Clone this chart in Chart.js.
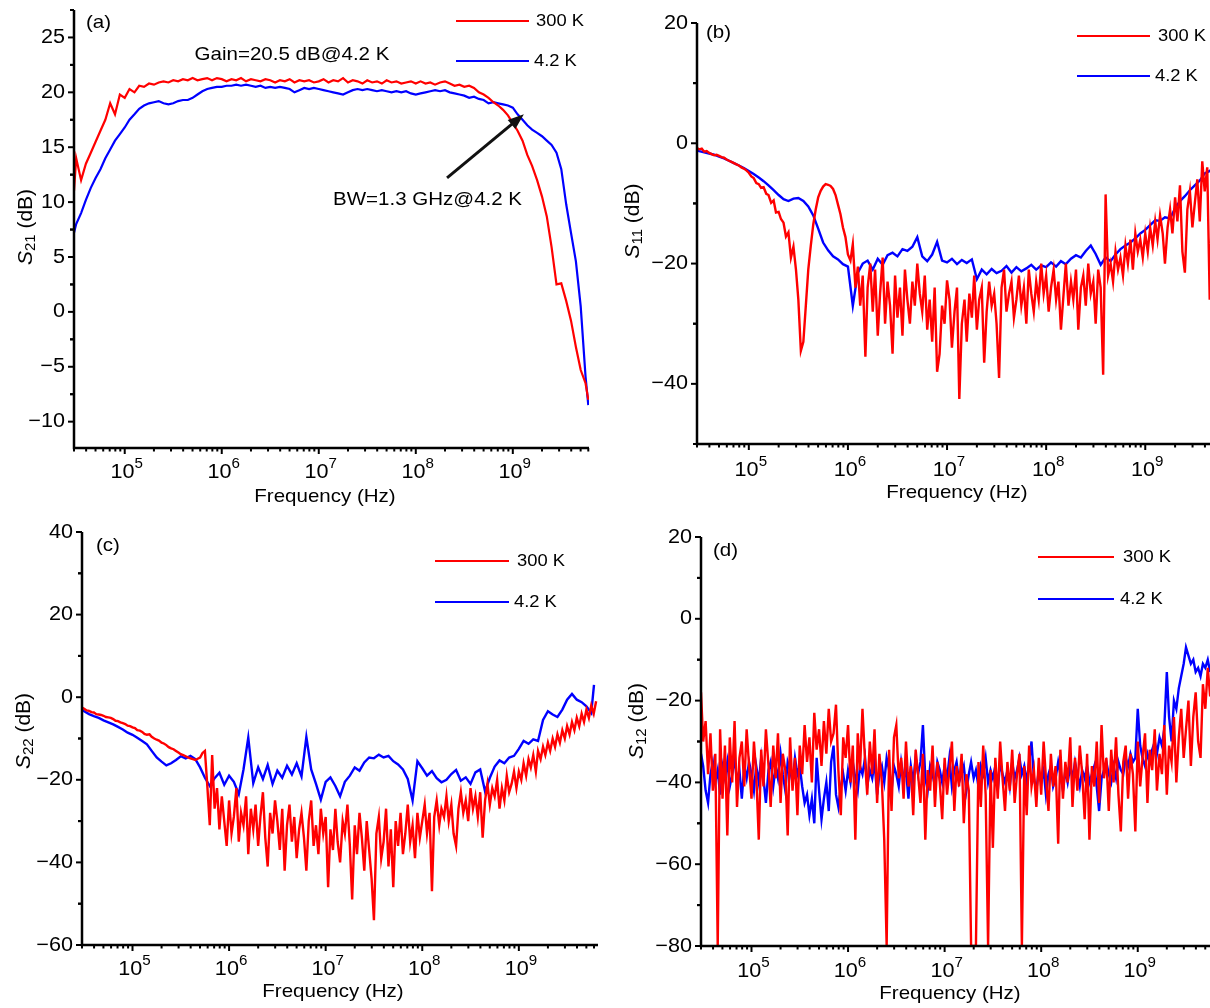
<!DOCTYPE html>
<html>
<head>
<meta charset="utf-8">
<script src="https://cdn.jsdelivr.net/npm/chart.js@4.4.1/dist/chart.umd.min.js"></script>
<style>
  html, body { margin: 0; padding: 0; background: #fff; }
  #wrap { position: relative; width: 1210px; height: 1008px; overflow: hidden; background: #fff; }
  canvas { position: absolute; }
</style>
</head>
<body>
<div id="wrap">
  <canvas id="pa" width="605" height="516" style="left:0;top:0"></canvas>
  <canvas id="pb" width="605" height="516" style="left:605px;top:0"></canvas>
  <canvas id="pc" width="605" height="504" style="left:0;top:504px"></canvas>
  <canvas id="pd" width="605" height="504" style="left:605px;top:504px"></canvas>
</div>
<script>
/* ========== DATA ========== */
// coarse grid, 20 points per decade
const freq = [
  3e4, 3.16e4, 3.55e4, 3.98e4, 4.47e4, 5.01e4, 5.62e4, 6.31e4, 7.08e4, 7.94e4, 8.91e4,
  1e5, 1.12e5, 1.26e5, 1.41e5, 1.58e5, 1.78e5, 2e5, 2.24e5, 2.51e5, 2.82e5, 3.16e5, 3.55e5, 3.98e5, 4.47e5, 5.01e5, 5.62e5, 6.31e5, 7.08e5, 7.94e5, 8.91e5,
  1e6, 1.12e6, 1.26e6, 1.41e6, 1.58e6, 1.78e6, 2e6, 2.24e6, 2.51e6, 2.82e6, 3.16e6, 3.55e6, 3.98e6, 4.47e6, 5.01e6, 5.62e6, 6.31e6, 7.08e6, 7.94e6, 8.91e6,
  1e7, 1.12e7, 1.26e7, 1.41e7, 1.58e7, 1.78e7, 2e7, 2.24e7, 2.51e7, 2.82e7, 3.16e7, 3.55e7, 3.98e7, 4.47e7, 5.01e7, 5.62e7, 6.31e7, 7.08e7, 7.94e7, 8.91e7,
  1e8, 1.12e8, 1.26e8, 1.41e8, 1.58e8, 1.78e8, 2e8, 2.24e8, 2.51e8, 2.82e8, 3.16e8, 3.55e8, 3.98e8, 4.47e8, 5.01e8, 5.62e8, 6.31e8, 7.08e8, 7.94e8, 8.91e8,
  1e9, 1.12e9, 1.26e9, 1.41e9, 1.58e9, 1.78e9, 2e9, 2.24e9, 2.51e9, 2.82e9, 3.16e9, 3.55e9, 3.98e9, 4.47e9, 5.01e9, 5.62e9, 6e9
];

// fine grid, 40 points per decade (for the noisy traces)
const freqFine = [
  3e4, 3.16e4, 3.35e4, 3.55e4, 3.76e4, 3.98e4, 4.22e4, 4.47e4, 4.73e4, 5.01e4, 5.31e4, 5.62e4, 5.96e4, 6.31e4, 6.68e4, 7.08e4, 7.5e4, 7.94e4, 8.41e4, 8.91e4, 9.44e4,
  1e5, 1.06e5, 1.12e5, 1.19e5, 1.26e5, 1.33e5, 1.41e5, 1.5e5, 1.58e5, 1.68e5,
  1.78e5, 1.88e5, 2e5, 2.11e5, 2.24e5, 2.37e5, 2.51e5, 2.66e5, 2.82e5, 2.99e5,
  3.16e5, 3.35e5, 3.55e5, 3.76e5, 3.98e5, 4.22e5, 4.47e5, 4.73e5, 5.01e5, 5.31e5,
  5.62e5, 5.96e5, 6.31e5, 6.68e5, 7.08e5, 7.5e5, 7.94e5, 8.41e5, 8.91e5, 9.44e5,
  1e6, 1.06e6, 1.12e6, 1.19e6, 1.26e6, 1.33e6, 1.41e6, 1.5e6, 1.58e6, 1.68e6,
  1.78e6, 1.88e6, 2e6, 2.11e6, 2.24e6, 2.37e6, 2.51e6, 2.66e6, 2.82e6, 2.99e6,
  3.16e6, 3.35e6, 3.55e6, 3.76e6, 3.98e6, 4.22e6, 4.47e6, 4.73e6, 5.01e6, 5.31e6,
  5.62e6, 5.96e6, 6.31e6, 6.68e6, 7.08e6, 7.5e6, 7.94e6, 8.41e6, 8.91e6, 9.44e6,
  1e7, 1.06e7, 1.12e7, 1.19e7, 1.26e7, 1.33e7, 1.41e7, 1.5e7, 1.58e7, 1.68e7,
  1.78e7, 1.88e7, 2e7, 2.11e7, 2.24e7, 2.37e7, 2.51e7, 2.66e7, 2.82e7, 2.99e7,
  3.16e7, 3.35e7, 3.55e7, 3.76e7, 3.98e7, 4.22e7, 4.47e7, 4.73e7, 5.01e7, 5.31e7,
  5.62e7, 5.96e7, 6.31e7, 6.68e7, 7.08e7, 7.5e7, 7.94e7, 8.41e7, 8.91e7, 9.44e7,
  1e8, 1.06e8, 1.12e8, 1.19e8, 1.26e8, 1.33e8, 1.41e8, 1.5e8, 1.58e8, 1.68e8,
  1.78e8, 1.88e8, 2e8, 2.11e8, 2.24e8, 2.37e8, 2.51e8, 2.66e8, 2.82e8, 2.99e8,
  3.16e8, 3.35e8, 3.55e8, 3.76e8, 3.98e8, 4.22e8, 4.47e8, 4.73e8, 5.01e8, 5.31e8,
  5.62e8, 5.96e8, 6.31e8, 6.68e8, 7.08e8, 7.5e8, 7.94e8, 8.41e8, 8.91e8, 9.44e8,
  1e9, 1.06e9, 1.12e9, 1.19e9, 1.26e9, 1.33e9, 1.41e9, 1.5e9, 1.58e9, 1.68e9,
  1.78e9, 1.88e9, 2e9, 2.11e9, 2.24e9, 2.37e9, 2.51e9, 2.66e9, 2.82e9, 2.99e9,
  3.16e9, 3.35e9, 3.55e9, 3.76e9, 3.98e9, 4.22e9, 4.47e9, 4.73e9, 5.01e9, 5.31e9,
  5.62e9, 5.96e9, 6.31e9
];

// (a) S21 on freq
const s21Red = [
  11, 14, 12, 13.5, 14.5, 15.5, 16.5, 17.5, 19, 18, 19.8,
  19.5, 20.3, 20, 20.6, 20.5, 20.8, 20.7, 20.9, 21, 20.9, 21.1, 21, 21.2, 21.1, 21.3, 21.1, 21.2, 21.3, 21.1, 21.3,
  21.2, 21.0, 21.2, 21.1, 21.3, 21.0, 21.2, 21.1, 21.0, 21.2, 21.1, 20.9, 21.1, 21.0, 21.2, 20.9, 21.1, 21.0, 21.1, 20.9,
  21.0, 21.2, 20.9, 21.1, 21.0, 21.3, 20.9, 21.1, 21.0, 20.8, 21.1, 20.9, 21.0, 20.8, 21.1, 20.9, 21.0, 20.8, 20.9, 21.0,
  20.8, 21.0, 20.8, 20.9, 20.7, 20.9, 21.0, 20.8, 20.6, 20.7, 20.5, 20.6, 20.4, 20.0, 19.8, 19.5, 19.1, 18.8, 18.4, 17.9,
  17.2, 16.5, 15.6, 14.3, 13.3, 12, 10.5, 8.7, 5.9, 2.5, 2.6, 1, -0.8, -3.2, -5.3, -6.5, -8
];
const s21Blue = [
  7.2, 8, 9, 10.2, 11.3, 12.2, 13, 14, 14.8, 15.6, 16.2,
  16.8, 17.5, 18, 18.5, 18.8, 19, 19.1, 19.2, 19, 18.9, 19, 19.2, 19.3, 19.3, 19.5, 19.8, 20.1, 20.3, 20.4, 20.5,
  20.5, 20.6, 20.6, 20.7, 20.6, 20.7, 20.6, 20.5, 20.6, 20.4, 20.5, 20.4, 20.5, 20.4, 20.3, 20.0, 20.2, 20.4, 20.3, 20.4,
  20.3, 20.2, 20.1, 20.0, 19.9, 19.8, 20.0, 20.2, 20.3, 20.2, 20.3, 20.2, 20.1, 20.2, 20.1, 20.0, 20.1, 20.0, 20.1, 19.9,
  19.8, 19.9, 20.0, 20.1, 20.2, 20.1, 20.2, 20.0, 19.9, 19.8, 19.7, 19.5, 19.6, 19.4, 19.3, 19.0, 19.1, 19.0, 18.9, 18.8,
  18.6, 18.0, 17.5, 17.0, 16.6, 16.3, 16.0, 15.6, 15.2, 14.5, 13.0, 9.8, 7.2, 4.6, 0.5, -5.9, -8.5
];

// (b) S11: red on freqFine, blue on freq
const s11Red = [
  -0.8, -1.0, -0.9, -1.4, -1.3, -1.6, -1.8, -2.0, -1.9, -2.1, -2.3, -2.4, -2.7, -2.9, -3.1, -3.3, -3.5, -3.7, -4.0, -4.2, -4.5,
  -4.9, -5.5, -5.8, -6.6, -6.8, -7.4, -7.3, -8.4, -8.6, -9.9,
  -9.5, -11.5, -11.4, -12.6, -13.2, -15.5, -14.8, -19, -17.2, -21,
  -26, -34.5, -33, -27, -21, -17, -13.5, -11, -9.0, -7.9,
  -7.2, -6.8, -6.9, -7.1, -7.6, -8.6, -10.2, -11.8, -14.0, -15.6,
  -18.5, -19.5, -16.8, -24, -20.5, -27, -22, -35.5, -24, -20,
  -28, -21, -32, -25, -19, -30, -23, -27, -35, -22,
  -29, -24, -32, -21, -26, -30, -23, -27, -20, -25,
  -28, -22, -31, -26, -33, -24, -38, -35, -27, -30,
  -22.8, -26, -34, -28, -24, -42.5, -30, -26, -33, -25,
  -29, -22, -31, -26, -24, -36.5, -28, -23, -27, -25,
  -30, -39, -24, -21, -28, -25, -23, -29, -26, -22,
  -27, -24, -30, -21, -25, -28, -23, -26, -20, -25,
  -22, -28, -24, -21, -26, -23, -31, -25, -20, -27,
  -23, -26, -21, -31, -24, -22, -27, -20, -25, -23,
  -30, -21, -24, -38.5, -8.5, -22, -20, -23, -18, -21,
  -19, -22, -17, -20, -16, -21, -15, -18, -16, -19,
  -15, -18, -14, -17, -13, -16, -12, -15, -20, -14,
  -11, -15, -9, -13, -7, -18, -21.5, -11, -8, -14,
  -10, -6, -13, -3, -8, -4, -26, -9, -8, -5,
  -6, -5, -6
];
const s11Blue = [
  -1.2, -1.3, -1.5, -1.7, -1.9, -2.2, -2.5, -2.9, -3.3, -3.7, -4.1,
  -4.6, -5.1, -5.7, -6.3, -7.0, -7.8, -8.6, -9.3, -9.6, -9.2, -9.1, -9.6, -10.5, -12.0, -14.2, -16.5, -17.8, -18.8, -19.3, -20.1,
  -20.5, -27, -21.5, -20, -19.5, -21, -19.2, -20.2, -18.6, -18.2, -18.8, -17.6, -17.9, -17.2, -15.6, -18.8, -19.6, -18.5, -16.4, -19.5,
  -19.8, -19.2, -20.1, -19.4, -19.9, -19.3, -22.6, -21.0, -21.8, -20.9, -21.6, -21.2, -20.4, -21.5, -20.6, -21.3, -20.8, -20.2, -21.0, -20.3,
  -20.6, -19.8, -20.5, -19.6, -20.1, -19.2, -18.6, -19.0, -17.9, -17.0, -18.4, -20.2, -19.0, -19.6, -18.5, -17.6, -17.0, -16.5, -15.8, -15.0,
  -14.4, -13.6, -12.8, -12.9, -12.3, -12.5, -10.8, -9.6, -8.8, -7.8, -7.0, -6.2, -5.0, -4.6, -4.0, -3.5, -3.2
];

// (c) S22: red on freqFine, blue on freq
const s22Red = [
  -2.5, -2.8, -3.2, -3.3, -3.6, -3.7, -4.1, -4.2, -4.3, -4.5, -4.8, -4.9, -5.0, -5.3, -5.7, -5.8, -6.1, -6.3, -6.5, -6.9, -7.0,
  -7.3, -7.5, -8.0, -8.1, -8.4, -8.9, -9.1, -9.0, -9.6, -10.0,
  -10.3, -10.5, -11.0, -11.2, -11.6, -12.1, -12.4, -12.6, -13.0, -13.4,
  -13.8, -14.0, -14.3, -14.6, -14.8, -15.0, -15.2, -14.9, -14.6, -13.5,
  -13.0, -21.7, -31, -14, -27, -22, -32, -24, -30, -36,
  -25, -33, -29, -22, -35, -28, -31, -24, -38, -27,
  -32, -26, -36, -29, -23, -34, -41, -28, -33, -25,
  -30, -37, -27, -42, -31, -26, -35, -29, -39, -32,
  -28, -34, -42, -30, -25, -36, -31, -38, -27, -33,
  -29, -46, -32, -37, -27, -35, -40, -30, -33, -26,
  -36, -49, -31, -38, -28, -34, -42, -30, -37, -44,
  -54, -33, -29, -39, -35, -27, -41, -32, -46, -30,
  -36, -28, -38, -33, -26, -35, -31, -39, -28, -34,
  -30, -26, -33, -28, -47, -29, -25, -31, -27, -29,
  -24, -30, -26, -33, -36, -27, -23, -28, -25, -30,
  -22, -27, -24, -29, -23, -34, -25, -21, -26, -22,
  -24, -20, -27, -22, -25, -19, -23, -21, -18, -22,
  -18, -20, -16, -19, -15, -17, -14, -18, -13, -15,
  -12, -14, -11, -13, -10, -12, -9, -11, -8, -10,
  -7, -9, -6, -8, -5, -7, -4, -6, -3, -5,
  -2, -4, -1
];
const s22Blue = [
  -3, -3.4, -4.1, -4.6, -5.0, -5.6, -6.1, -6.6, -7.2, -7.8, -8.6,
  -9.1, -9.8, -10.6, -11.4, -13.0, -14.6, -15.6, -16.5, -16.0, -15.2, -14.3, -14.8, -14.2, -15.0, -17.0, -19.5, -21.5, -19.6, -18.3, -21.2,
  -19.0, -20.5, -23.5, -17.5, -9.8, -20.8, -17.0, -19.8, -16.4, -21.0, -17.8, -19.5, -16.6, -18.7, -16.0, -19.2, -9.6, -17.5, -21.0, -24.8,
  -20.5, -19.4, -21.5, -24.0, -20.5, -19.0, -17.0, -17.8, -15.8, -14.6, -14.8, -13.9, -14.6, -14.2, -15.5, -16.3, -17.5, -19.8, -25.0, -15.5,
  -17.2, -19.0, -17.9, -19.6, -20.6, -20.0, -18.6, -17.6, -20.2, -19.4, -21.0, -18.2, -17.5, -22.8, -19.5, -16.8, -15.3, -16.0, -14.6, -14.2,
  -12.5, -10.6, -11.3, -10.2, -10.6, -5.5, -3.4, -4.2, -4.8, -3.0, -0.6, 0.8, -0.6, -1.2, -2.2, -3.8, 3.0
];

// (d) S12: both on freqFine
const s12Red = [
  -18, -30, -25, -38, -28, -42, -33, -80, -27, -44, -31, -53, -29, -40, -25, -46, -34, -30, -41, -27, -36,
  -44, -30, -38, -54, -32, -41, -27, -36, -46, -31,
  -39, -28, -45, -33, -37, -53, -29, -42, -34, -48,
  -31, -38, -26, -35, -29, -40, -23, -32, -27, -36,
  -25, -33, -22, -30, -28, -21, -37, -48, -29, -34,
  -26, -40, -31, -54, -28, -37, -22, -35, -43, -30,
  -38, -27, -45, -33, -40, -54, -80, -32, -47, -29,
  -26, -39, -34, -44, -30, -41, -36, -48, -32, -38,
  -45, -33, -54, -37, -42, -31, -46, -35, -40, -49,
  -34, -43, -37, -30, -47, -36, -41, -33, -50, -38,
  -42, -80, -80, -80, -35, -46, -31, -43, -80, -37,
  -56, -34, -44, -30, -39, -47, -35, -42, -32, -45,
  -38, -33, -80, -36, -48, -31, -41, -37, -46, -34,
  -43, -30, -39, -47, -33, -41, -36, -55, -32, -44,
  -35, -40, -29, -46, -34, -42, -31, -38, -49, -33,
  -54, -36, -41, -30, -45, -26, -39, -34, -47, -32,
  -40, -29, -43, -52, -35, -31, -44, -33, -38, -52,
  -30, -41, -34, -28, -45, -32, -37, -27, -42, -33,
  -38, -26, -43, -31, -35, -24, -40, -29, -22, -34,
  -27, -20, -36, -24, -18, -30, -34, -16, -22, -12,
  -19, -14, -18
];
const s12Blue = [
  -33, -36, -42, -45, -38, -35, -40, -37, -43, -36, -39, -35, -41, -38, -34, -40, -37, -44, -36, -39, -35,
  -38, -42, -36, -40, -34, -39, -45, -37, -35, -41,
  -36, -39, -33, -38, -42, -35, -37, -40, -34, -38,
  -36, -41, -45, -43, -48, -44, -50, -34, -42, -49,
  -44, -40, -47, -35, -31, -43, -46, -41, -38, -42,
  -37, -40, -35, -39, -42, -36, -38, -34, -41, -37,
  -39, -35, -43, -38, -36, -40, -34, -37, -42, -36,
  -38, -41, -35, -39, -37, -44, -36, -40, -34, -38,
  -35, -26, -39, -42, -36, -38, -41, -35, -37, -40,
  -36, -39, -34, -41, -37, -35, -40, -38, -36, -42,
  -38, -35, -39, -37, -41, -36, -38, -34, -40, -37,
  -39, -36, -42, -35, -38, -40, -37, -41, -35, -39,
  -37, -34, -38, -36, -40, -35, -30, -39, -42, -37,
  -40, -37, -43, -38, -36, -41, -39, -35, -38, -42,
  -37, -40, -36, -39, -35, -38, -41, -37, -39, -36,
  -40, -38, -36, -41, -47, -39, -37, -35, -38, -40,
  -36, -39, -35, -37, -38, -34, -36, -33, -35, -34,
  -22, -31, -34, -36, -33, -35, -32, -30, -33, -29,
  -31, -27, -13, -24, -30, -20, -22, -17, -14, -11,
  -7, -9, -11, -10, -13, -12, -14, -11, -12, -10,
  -13, -15, -12
];

const decades = [5, 6, 7, 8, 9];
const yTicksA = [-10, -5, 0, 5, 10, 15, 20, 25];
const yTicksB = [-40, -20, 0, 20];
const yTicksC = [-60, -40, -20, 0, 20, 40];
const yTicksD = [-80, -60, -40, -20, 0, 20];
const seriesNames = ["300 K", "4.2 K"];

/* ========== DRAWING HELPERS ========== */
const RED = "#ff0000";
const BLUE = "#0000ff";
const FONT = '"Liberation Sans", Arial, Helvetica, sans-serif';
const SX = 1.08; // the figure's text is slightly wide

function measure(ctx, s, size, style, k) {
  ctx.save();
  ctx.font = `${style || ""} ${size}px ${FONT}`;
  const w = ctx.measureText(s).width * (k == null ? SX : k);
  ctx.restore();
  return w;
}

function text(ctx, s, x, y, size, align, style, k) {
  const kk = k == null ? SX : k;
  const w = measure(ctx, s, size, style, kk);
  let x0 = x;
  if (align === "center") x0 = x - w / 2;
  else if (align === "right") x0 = x - w;
  ctx.save();
  ctx.font = `${style || ""} ${size}px ${FONT}`;
  ctx.textBaseline = "middle";
  ctx.textAlign = "left";
  ctx.fillStyle = "#000";
  ctx.translate(x0, y);
  ctx.scale(kk, 1);
  ctx.fillText(s, 0, 0);
  ctx.restore();
  return w;
}

const pts = (fs, vals) => {
  if (fs.length !== vals.length) console.warn("length mismatch", fs.length, vals.length);
  return fs.map((f, i) => ({ x: f, y: vals[i] }));
};

function frame(p) {
  return {
    id: "frame_" + p.tag,
    afterDraw(chart) {
      const { ctx, chartArea: a, scales: { x, y } } = chart;
      ctx.save();
      ctx.strokeStyle = "#000";
      ctx.fillStyle = "#000";

      // axis lines
      ctx.lineWidth = 2.5;
      ctx.beginPath();
      ctx.moveTo(a.left, a.top);
      ctx.lineTo(a.left, a.bottom);
      ctx.lineTo(a.right, a.bottom);
      ctx.stroke();

      // y ticks + labels
      ctx.lineWidth = 2;
      const step = p.yTicks[1] - p.yTicks[0];
      p.yTicks.forEach((v) => {
        const py = y.getPixelForValue(v);
        ctx.beginPath(); ctx.moveTo(a.left - 6, py); ctx.lineTo(a.left, py); ctx.stroke();
        text(ctx, String(v).replace("-", "\u2212"), a.left - 9, py, 20, "right");
        [v - step / 2, v + step / 2].forEach((m) => {
          if (m < p.ymin || m > p.ymax || p.yTicks.includes(m)) return;
          const my = y.getPixelForValue(m);
          ctx.beginPath(); ctx.moveTo(a.left - 4, my); ctx.lineTo(a.left, my); ctx.stroke();
        });
      });

      // x ticks (decades + 2..9 minors)
      for (let d = 4; d <= 9; d++) {
        for (let m = 1; m <= 9; m++) {
          const f = m * Math.pow(10, d);
          if (f < p.xmin || f > p.xmax) continue;
          const px = x.getPixelForValue(f);
          const len = m === 1 ? 6 : 3.5;
          ctx.beginPath(); ctx.moveTo(px, a.bottom); ctx.lineTo(px, a.bottom + len); ctx.stroke();
        }
      }
      decades.forEach((e) => {
        const px = x.getPixelForValue(Math.pow(10, e));
        const w1 = measure(ctx, "10", 20), w2 = measure(ctx, String(e), 14);
        const x0 = px - (w1 + w2) / 2 + 2;
        const ly = a.bottom + p.xLabGap;
        text(ctx, "10", x0, ly, 20, "left");
        text(ctx, String(e), x0 + w1, ly - 8, 14, "left");
      });

      // axis titles
      text(ctx, "Frequency (Hz)", p.xTitle[0], p.xTitle[1], 19, "center");
      ctx.save();
      ctx.translate(p.yTitle[0], p.yTitle[1]);
      ctx.rotate(-Math.PI / 2);
      const parts = [["S", 21, "italic", 0], [p.sub, 15, "", 5], [" (dB)", 21, "", 0]];
      const tot = parts.reduce((s, q) => s + measure(ctx, q[0], q[1], q[2], 1), 0);
      let xx = -tot / 2;
      parts.forEach((q) => { xx += text(ctx, q[0], xx, q[3], q[1], "left", q[2], 1); });
      ctx.restore();

      // panel letter
      text(ctx, p.letter, p.letterPos[0], p.letterPos[1], 19, "left");

      // legend
      const L = p.legend;
      ctx.lineWidth = 2;
      [[RED, L.yr, L.tr], [BLUE, L.yb, L.tb]].forEach(([c, ly, tx], i) => {
        ctx.strokeStyle = c;
        ctx.beginPath(); ctx.moveTo(L.x1, ly); ctx.lineTo(L.x2, ly); ctx.stroke();
        text(ctx, seriesNames[i], tx, ly, 17, "left");
      });

      if (p.extra) p.extra(chart);
      ctx.restore();
    }
  };
}

function makePanel(id, p) {
  const lw = p.lineWidth || 2;
  return new Chart(document.getElementById(id), {
    type: "line",
    data: {
      datasets: [
        { label: seriesNames[0], data: pts(p.redF, p.red), borderColor: RED, borderWidth: lw, pointRadius: 0, tension: 0, order: 0 },
        { label: seriesNames[1], data: pts(p.blueF, p.blue), borderColor: BLUE, borderWidth: lw, pointRadius: 0, tension: 0, order: 1 }
      ]
    },
    options: {
      responsive: false,
      animation: false,
      devicePixelRatio: 1,
      events: [],
      layout: { padding: p.pad },
      plugins: { legend: { display: false }, tooltip: { enabled: false } },
      scales: {
        x: { type: "logarithmic", min: p.xmin, max: p.xmax, display: false },
        y: { type: "linear", min: p.ymin, max: p.ymax, display: false }
      }
    },
    plugins: [frame(p)]
  });
}

/* ========== PANELS ========== */
makePanel("pa", {
  tag: "a", red: s21Red, redF: freq, blue: s21Blue, blueF: freq, sub: "21", letter: "(a)",
  xmin: 3e4, xmax: 6.1e9, ymin: -12.4, ymax: 27.5, yTicks: yTicksA, lineWidth: 2.2,
  pad: { left: 74, top: 10, right: 16, bottom: 68 }, xLabGap: 24,
  xTitle: [325, 497], yTitle: [26, 227], letterPos: [86, 23],
  legend: { x1: 456, x2: 529, yr: 21, yb: 61, tr: 536, tb: 534 },
  extra(chart) {
    const { ctx, scales: { x, y } } = chart;
    text(ctx, "Gain=20.5 dB@4.2 K", 292, 55, 19, "center");
    text(ctx, "BW=1.3 GHz@4.2 K", 333, 200, 19, "left");
    const tx = x.getPixelForValue(1.3e9), ty = y.getPixelForValue(18);
    const fx = x.getPixelForValue(2.1e8), fy = y.getPixelForValue(12.2);
    const ang = Math.atan2(ty - fy, tx - fx);
    const c = Math.cos(ang), s = Math.sin(ang), hl = 16, hw = 6;
    ctx.strokeStyle = "#111"; ctx.fillStyle = "#111"; ctx.lineWidth = 3;
    ctx.beginPath(); ctx.moveTo(fx, fy); ctx.lineTo(tx - hl * 0.8 * c, ty - hl * 0.8 * s); ctx.stroke();
    ctx.beginPath();
    ctx.moveTo(tx, ty);
    ctx.lineTo(tx - hl * c - hw * s, ty - hl * s + hw * c);
    ctx.lineTo(tx - hl * c + hw * s, ty - hl * s - hw * c);
    ctx.closePath(); ctx.fill();
  }
});

makePanel("pb", {
  tag: "b", red: s11Red, redF: freqFine, blue: s11Blue, blueF: freq, sub: "11", letter: "(b)",
  xmin: 3e4, xmax: 4.5e9, ymin: -50, ymax: 20, yTicks: yTicksB, lineWidth: 2.4,
  pad: { left: 92, top: 23, right: 0, bottom: 72 }, xLabGap: 26,
  xTitle: [352, 493], yTitle: [28, 221], letterPos: [101, 33],
  legend: { x1: 472, x2: 545, yr: 36, yb: 76, tr: 553, tb: 550 }
});

makePanel("pc", {
  tag: "c", red: s22Red, redF: freqFine, blue: s22Blue, blueF: freq, sub: "22", letter: "(c)",
  xmin: 3e4, xmax: 6.6e9, ymin: -60, ymax: 40, yTicks: yTicksC, lineWidth: 2.4,
  pad: { left: 82, top: 28, right: 7, bottom: 63 }, xLabGap: 24,
  xTitle: [333, 488], yTitle: [24, 227], letterPos: [96, 42],
  legend: { x1: 435, x2: 509, yr: 57, yb: 98, tr: 517, tb: 514 }
});

makePanel("pd", {
  tag: "d", red: s12Red, redF: freqFine, blue: s12Blue, blueF: freqFine, sub: "12", letter: "(d)",
  xmin: 3e4, xmax: 5.6e9, ymin: -80, ymax: 20, yTicks: yTicksD, lineWidth: 2.4,
  pad: { left: 96, top: 33, right: 0, bottom: 62 }, xLabGap: 25,
  xTitle: [345, 490], yTitle: [32, 217], letterPos: [108, 47],
  legend: { x1: 433, x2: 509, yr: 53, yb: 95, tr: 518, tb: 515 }
});
</script>
</body>
</html>
